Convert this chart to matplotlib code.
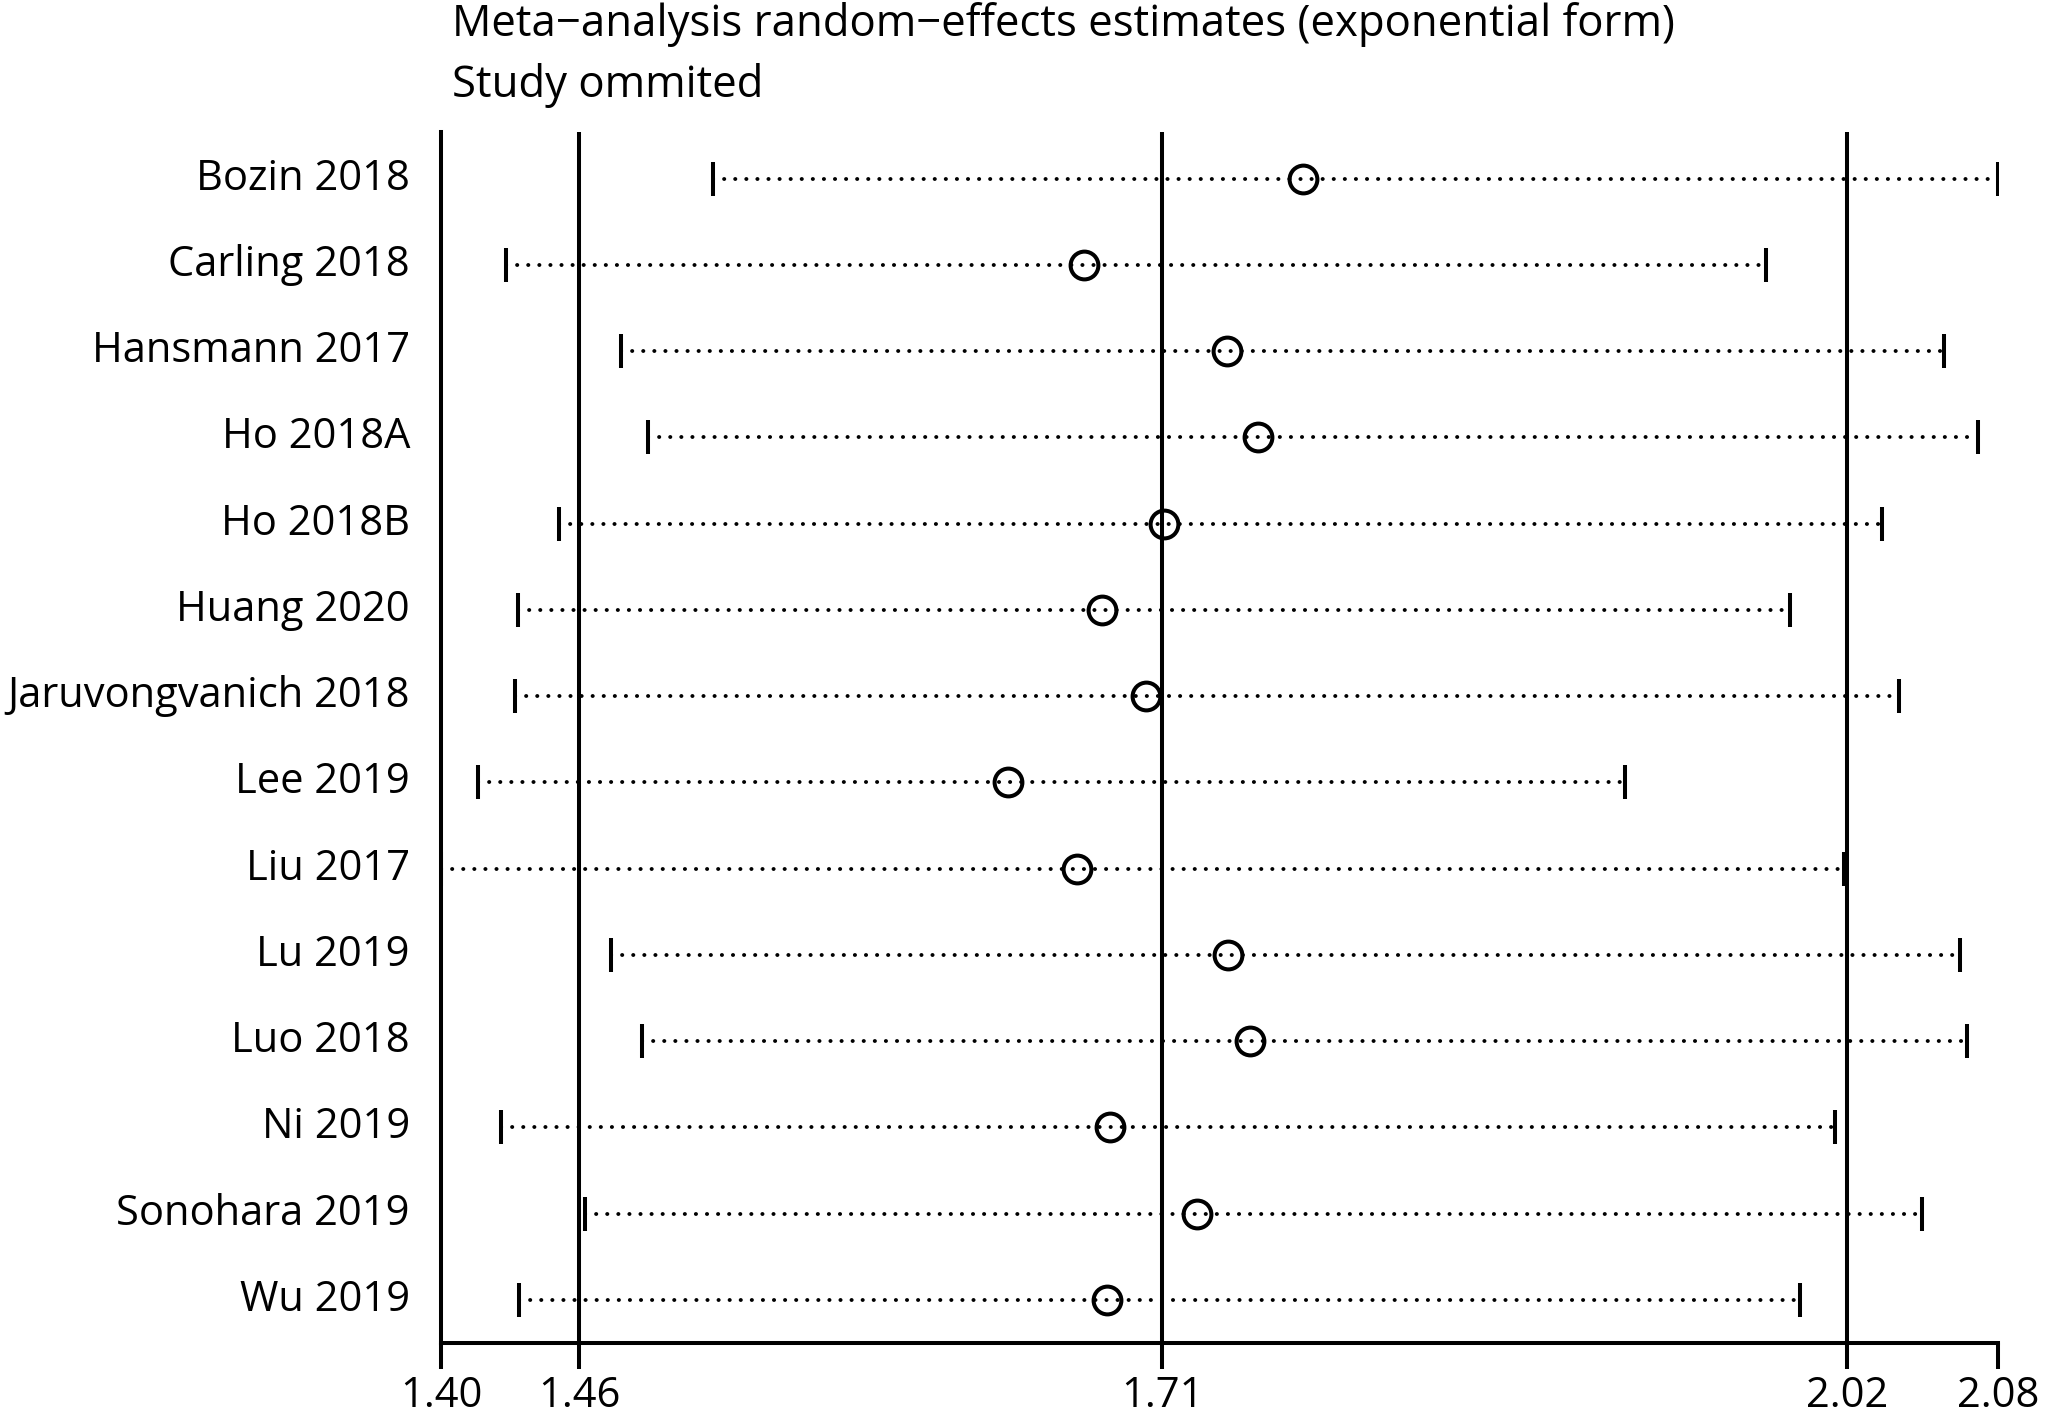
import numpy as np
import matplotlib
matplotlib.use('Agg')
import matplotlib.pyplot as plt

plt.rcParams['font.family'] = ['Open Sans', 'DejaVu Sans']

# leave-one-out estimates (exponential form)
studies = ['Bozin 2018', 'Carling 2018', 'Hansmann 2017', 'Ho 2018A', 'Ho 2018B',
           'Huang 2020', 'Jaruvongvanich 2018', 'Lee 2019', 'Liu 2017', 'Lu 2019',
           'Luo 2018', 'Ni 2019', 'Sonohara 2019', 'Wu 2019']
estimate = [1.7765, 1.6808, 1.7433, 1.7568, 1.7158, 1.6887, 1.7079,
            1.6476, 1.6778, 1.7437, 1.7533, 1.6922, 1.7302, 1.6909]
lower = [1.5188, 1.4284, 1.4786, 1.4904, 1.4515, 1.4336, 1.4323,
         1.4162, 1.4000, 1.4742, 1.4878, 1.4262, 1.4629, 1.4341]
upper = [2.0800, 1.9787, 2.0564, 2.0713, 2.0293, 1.9892, 2.0368,
         1.9171, 2.0127, 2.0634, 2.0665, 2.0088, 2.0468, 1.9935]

# overall estimate and CI (reference lines), axis range
overall = [1.4603, 1.7149, 2.0140]
tick_pos = [1.40, 1.4603, 1.7149, 2.0140, 2.08]
tick_labels = ['1.40', '1.46', '1.71', '2.02', '2.08']

W, H = 2047, 1413
FS = 30
fig = plt.figure(figsize=(W / 100, H / 100), dpi=100)
ax = fig.add_axes([441 / W, 70 / H, (1998 - 441) / W, (1343 - 132) / H])

y = np.arange(1, len(studies) + 1)
lw = 2.9

for yi, lo, est, up in zip(y, lower, estimate, upper):
    ax.plot([lo, up], [yi, yi], color='black', linewidth=2.8,
            linestyle=(0, (0.05, 2.8)), dash_capstyle='round', zorder=2)
ax.plot(lower, y, linestyle='none', marker='|', markersize=24, mew=lw, color='black', zorder=3)
ax.plot(upper, y, linestyle='none', marker='|', markersize=24, mew=lw, color='black', zorder=3)
ax.plot(estimate, y, linestyle='none', marker='o', markersize=20, mew=lw,
        markerfacecolor='none', markeredgecolor='black', zorder=4)

for v in overall:
    ax.axvline(v, color='black', linewidth=lw, zorder=1)

ax.set_xlim(1.40, 2.08)
ax.set_ylim(len(studies) + 0.5, 0.46)

ax.set_xticks(tick_pos)
ax.set_xticklabels(tick_labels)
ax.set_yticks([])
for t, yi in zip(studies, y):
    ax.text(-31 / (1998 - 441), yi, t, transform=ax.get_yaxis_transform(),
            ha='right', va='center', fontsize=FS)

ax.spines['top'].set_visible(False)
ax.spines['right'].set_visible(False)
ax.spines['left'].set_linewidth(lw)
ax.spines['bottom'].set_linewidth(lw)
ax.tick_params(axis='x', direction='out', length=19, width=lw, labelsize=FS, pad=4)

fig.text(452 / W, 1 - 36 / H, 'Meta\u2212analysis random\u2212effects estimates (exponential form)',
         fontsize=31.5, ha='left', va='baseline')
fig.text(452 / W, 1 - 97 / H, 'Study ommited', fontsize=31.5, ha='left', va='baseline')

fig.savefig('out.png', dpi=100, facecolor='white')
